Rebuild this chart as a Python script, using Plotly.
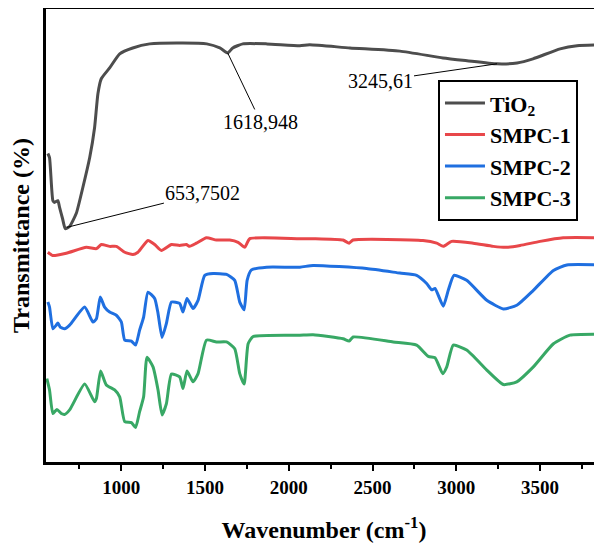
import plotly.graph_objects as go

# Wavenumber (cm^-1) and transmittance (arbitrary offset units)
tio2_x = [561, 571, 591, 601, 621, 631, 649, 665, 691, 731, 770, 811, 840, 860, 880, 930, 990,
          1068, 1169, 1366, 1510, 1588, 1635, 1665, 1725, 1868, 2066, 2125, 2365, 2663, 2920,
          3064, 3243, 3363, 3458, 3620, 3721, 3871]
tio2_y = [68.1, 67.2, 57.7, 57.3, 57.7, 56.2, 53.7, 51.5, 52.0, 54.9, 60.6, 67.2, 73.8, 81.3, 84.6,
          87.0, 90.1, 91.4, 92.3, 92.5, 92.3, 91.4, 90.3, 91.4, 92.3, 92.3, 91.9, 92.1, 91.4, 90.7,
          89.2, 88.6, 87.9, 88.1, 89.0, 91.2, 91.9, 92.1]

smpc1_x = [561, 589, 671, 791, 851, 880, 930, 970, 1020, 1069, 1099, 1159, 1199, 1239, 1299, 1348,
           1388, 1408, 1448, 1508, 1568, 1647, 1697, 1737, 1767, 2066, 2155, 2323, 2360, 2383, 2801,
           2883, 2922, 2972, 3101, 3221, 3301, 3381, 3500, 3638, 3871]
smpc1_y = [46.3, 45.6, 46.1, 47.4, 47.1, 48.0, 47.6, 47.6, 46.3, 45.8, 46.3, 48.9, 48.0, 46.7, 48.0,
           47.8, 48.0, 47.6, 48.3, 49.5, 49.0, 49.0, 48.5, 47.4, 49.3, 49.3, 49.3, 49.0, 48.3, 49.0,
           48.9, 48.3, 47.6, 48.7, 48.3, 47.6, 47.4, 47.8, 48.7, 49.5, 49.5]

smpc2_x = [561, 571, 591, 611, 621, 635, 661, 691, 781, 830, 851, 874, 900, 930, 970, 1000, 1020,
           1060, 1085, 1109, 1133, 1159, 1199, 1219, 1243, 1269, 1299, 1348, 1368, 1392, 1428, 1458,
           1498, 1548, 1628, 1677, 1707, 1733, 1751, 1777, 1867, 2066, 2145, 2464, 2663, 2763, 2823,
           2853, 2873, 2922, 2952, 2986, 3062, 3182, 3281, 3361, 3460, 3580, 3660, 3871]
smpc2_y = [35.3, 34.2, 29.4, 30.2, 30.7, 29.8, 29.4, 30.2, 34.2, 30.9, 31.6, 36.4, 34.2, 33.1, 32.4,
           30.9, 26.9, 26.7, 25.8, 29.1, 32.0, 37.5, 36.1, 32.8, 27.5, 30.6, 35.3, 35.0, 33.1, 36.1,
           33.9, 35.7, 41.2, 41.6, 41.4, 40.1, 35.3, 33.6, 40.1, 42.4, 43.0, 43.0, 43.4, 42.7, 41.7,
           41.2, 39.4, 38.0, 38.3, 34.4, 37.9, 41.2, 40.1, 35.7, 33.8, 34.6, 37.9, 42.3, 43.5, 43.5]

smpc3_x = [555, 571, 591, 615, 641, 661, 691, 781, 840, 851, 876, 910, 960, 990, 1020, 1060, 1085,
           1109, 1133, 1153, 1189, 1219, 1243, 1269, 1299, 1348, 1368, 1392, 1428, 1458, 1508, 1568,
           1628, 1677, 1707, 1733, 1757, 1787, 2066, 2145, 2324, 2360, 2384, 2623, 2763, 2833, 2873,
           2919, 2943, 2982, 3062, 3182, 3281, 3361, 3460, 3580, 3679, 3871]
smpc3_y = [18.4, 15.9, 10.7, 11.6, 10.7, 10.5, 11.5, 17.2, 13.3, 14.0, 20.1, 17.0, 15.9, 14.4, 8.9,
           8.7, 7.6, 11.1, 14.4, 23.1, 21.0, 15.9, 10.4, 12.9, 19.4, 18.8, 16.2, 20.1, 17.7, 19.5,
           26.9, 26.5, 26.5, 25.0, 19.5, 17.2, 26.1, 27.7, 28.0, 28.1, 27.2, 26.7, 27.6, 26.5, 25.8,
           23.3, 23.0, 19.5, 21.0, 25.8, 24.7, 20.3, 17.1, 17.7, 21.0, 26.1, 28.0, 28.2]

series_names = ["TiO<sub>2</sub>", "SMPC-1", "SMPC-2", "SMPC-3"]
series_colors = ["#4d4d4d", "#e8474a", "#1f6fe0", "#38a865"]

peak_x = [675, 1635, 3243]
peak_y = [51.8, 90.3, 87.9]
peak_labels = ["653,7502", "1618,948", "3245,61"]
label_offsets = [(136, -34), (33, 69), (-117, 17)]

tick_vals = [1000, 1500, 2000, 2500, 3000, 3500]
tick_text = ["1000", "1500", "2000", "2500", "3000", "3500"]

FONT = "Times New Roman, Liberation Serif, DejaVu Serif, serif"

fig = go.Figure()
for xs, ys, name, col in zip([tio2_x, smpc1_x, smpc2_x, smpc3_x],
                             [tio2_y, smpc1_y, smpc2_y, smpc3_y],
                             series_names, series_colors):
    fig.add_trace(go.Scatter(x=xs, y=ys, mode="lines", name=name,
                             line=dict(color=col, width=3, shape="spline", smoothing=0.5)))

for px, py, lab, (ax, ay) in zip(peak_x, peak_y, peak_labels, label_offsets):
    fig.add_annotation(x=px, y=py, text=lab, showarrow=True, arrowhead=0, arrowwidth=1,
                       arrowcolor="black", ax=ax, ay=ay,
                       font=dict(family=FONT, size=20, color="black"))

# page has an 8px body margin, so the figure is 594x536 and margins are shifted by 8
fig.update_layout(
    width=594, height=536,
    margin=dict(l=38, r=0, t=1, b=82, autoexpand=False),
    paper_bgcolor="white", plot_bgcolor="white",
    font=dict(family=FONT, color="black"),
    showlegend=True,
    legend=dict(x=0.705, y=0.843, xanchor="left", yanchor="top",
                bordercolor="black", borderwidth=2, bgcolor="white",
                font=dict(family=FONT, size=22, color="black", weight="bold"),
                tracegroupgap=0, itemwidth=40),
    xaxis=dict(range=[550, 3870], showgrid=False, zeroline=False,
               showline=True, linecolor="black", linewidth=3, mirror=True,
               ticks="outside", ticklen=6, tickwidth=2, tickcolor="black",
               tickvals=tick_vals, ticktext=tick_text,
               minor=dict(ticks="outside", ticklen=4, tickwidth=2, tickcolor="black",
                          tick0=750, dtick=500),
               tickfont=dict(family=FONT, size=19, color="black", weight="bold"),
               title=dict(text="Wavenumber (cm<sup>-1</sup>)", standoff=25,
                          font=dict(family=FONT, size=24, color="black", weight="bold"))),
    yaxis=dict(range=[0, 100], showgrid=False, zeroline=False,
               showline=True, linecolor="black", linewidth=3, mirror=False,
               showticklabels=False, ticks="",
               title=dict(text="Transmittance (%)", standoff=12,
                          font=dict(family=FONT, size=24, color="black", weight="bold"))),
)

fig.write_html("out.html")
